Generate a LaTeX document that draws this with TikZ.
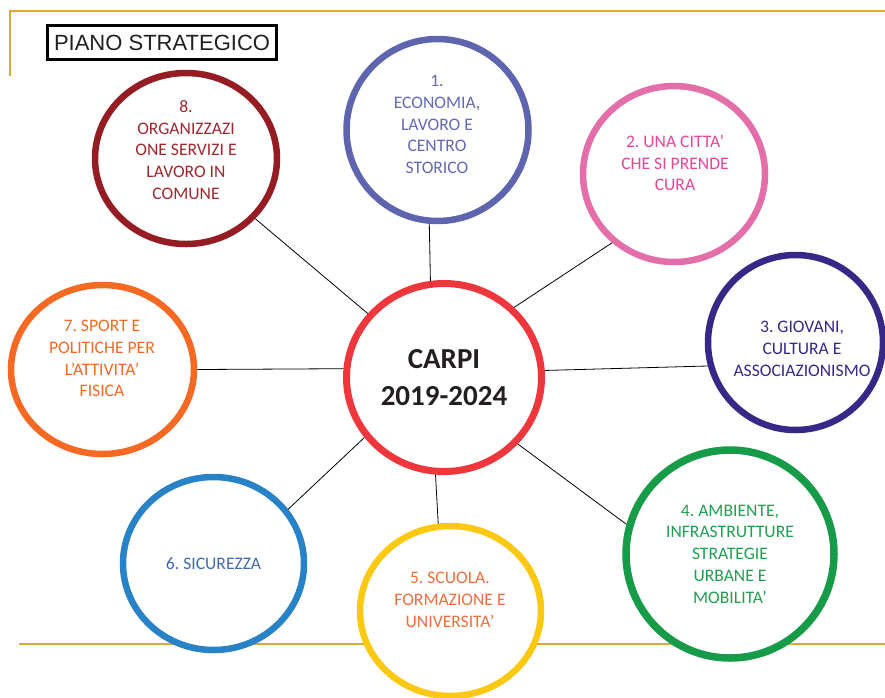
\documentclass[tikz,border=0pt]{standalone}
\usepackage{fontspec}
\setmainfont{Carlito}
\newfontfamily\arialf{Liberation Sans}
\usetikzlibrary{shapes.geometric}
\definecolor{gold}{RGB}{222,168,56}
\definecolor{cRed}{RGB}{238,55,60}
\definecolor{cOne}{RGB}{95,100,175}
\definecolor{tOne}{RGB}{100,105,180}
\definecolor{cTwo}{RGB}{228,110,170}
\definecolor{tTwo}{RGB}{230,70,150}
\definecolor{cThree}{RGB}{55,40,135}
\definecolor{cFour}{RGB}{22,155,72}
\definecolor{tFour}{RGB}{30,160,80}
\definecolor{cFive}{RGB}{252,200,18}
\definecolor{tFive}{RGB}{238,110,60}
\definecolor{cSix}{RGB}{40,130,200}
\definecolor{tSix}{RGB}{65,105,175}
\definecolor{cSeven}{RGB}{245,105,35}
\definecolor{cEight}{RGB}{150,28,35}
\definecolor{tEight}{RGB}{160,40,45}
\definecolor{darktxt}{RGB}{35,31,32}
\frenchspacing
\begin{document}
\begin{tikzpicture}[x=1pt,y=-1pt,
  ring/.style={ellipse, draw, fill=white, line width=6.5pt, inner sep=0pt},
  lbl/.style={align=center, font=\fontsize{17.6}{21.8}\selectfont, inner sep=0pt},
  link/.style={draw=black, line width=0.8pt},
  goldline/.style={draw=gold, line width=2pt}]
\useasboundingbox (0,0) rectangle (885,697);

% frame lines
\coordinate (tl) at (10,11);
\coordinate (tr) at (885,11);
\coordinate (lb) at (10,76);
\coordinate (bl) at (19,643.5);
\coordinate (br) at (885,643.5);
\draw[goldline] (lb) -- (tl) -- (tr);
\draw[goldline] (bl) -- (br);

% title
\node[draw=black, line width=3pt, minimum width=229pt, minimum height=34pt, inner sep=0pt,
      font=\arialf\fontsize{22}{24}\selectfont, text=darktxt] (title) at (162,42.5) {PIANO STRATEGICO};

% circles
\node[ring, draw=cRed, line width=7pt, minimum width=195pt, minimum height=188pt] (c) at (444,377.5) {};
\node[ring, draw=cOne, minimum width=182pt, minimum height=182pt] (c1) at (437.5,130) {};
\node[ring, draw=cTwo, minimum width=182pt, minimum height=176pt] (c2) at (674,174) {};
\node[ring, draw=cThree, minimum width=175pt, minimum height=175pt] (c3) at (795.5,342.5) {};
\node[ring, draw=cFour, line width=7.5pt, minimum width=208pt, minimum height=208pt] (c4) at (730,554) {};
\node[ring, draw=cFive, minimum width=181pt, minimum height=170pt] (c5) at (450.5,611) {};
\node[ring, draw=cSix, minimum width=181pt, minimum height=173pt] (c6) at (213.5,563.5) {};
\node[ring, draw=cSeven, minimum width=183pt, minimum height=169pt] (c7) at (102.5,369.5) {};
\node[ring, draw=cEight, minimum width=182pt, minimum height=171pt] (c8) at (186,158.5) {};

% connectors
\draw[link] (c.98.3) -- (c1.265.4);
\draw[link] (c.45.2) -- (c2.228);
\draw[link] (c.4.8) -- (c3.195.9);
\draw[link] (c.318.4) -- (c4.164.2);
\draw[link] (c.265.9) -- (c5.98.7);
\draw[link] (c.217.3) -- (c6.36.7);
\draw[link] (c.175.2) -- (c7.east);
\draw[link] (c.140.6) -- (c8.319.5);

% labels
\node[align=center, inner sep=0pt, font=\bfseries\fontsize{29}{37}\selectfont, text=darktxt] (t0) at (444,378) {CARPI\\2019-2024};
\node[lbl, text=tOne] (t1) at (437,124.5) {1.\\ECONOMIA,\\LAVORO E\\CENTRO\\STORICO};
\node[lbl, text=tTwo] (t2) at (675,163) {2. UNA CITTA’\\CHE SI PRENDE\\CURA};
\node[lbl, text=cThree] (t3) at (802,349) {3. GIOVANI,\\CULTURA E\\ASSOCIAZIONISMO};
\node[lbl, text=tFour] (t4) at (730,554) {4. AMBIENTE,\\INFRASTRUTTURE\\STRATEGIE\\URBANE E\\MOBILITA’};
\node[lbl, text=tFive] (t5) at (450,600) {5. SCUOLA.\\FORMAZIONE E\\UNIVERSITA’};
\node[lbl, text=tSix] (t6) at (213.5,564) {6. SICUREZZA};
\node[lbl, text=cSeven] (t7) at (102,358.5) {7. SPORT E\\POLITICHE PER\\L’ATTIVITA’\\FISICA};
\node[lbl, text=tEight] (t8) at (186,150) {8.\\ORGANIZZAZI\\ONE SERVIZI E\\LAVORO IN\\COMUNE};
\end{tikzpicture}
\end{document}
